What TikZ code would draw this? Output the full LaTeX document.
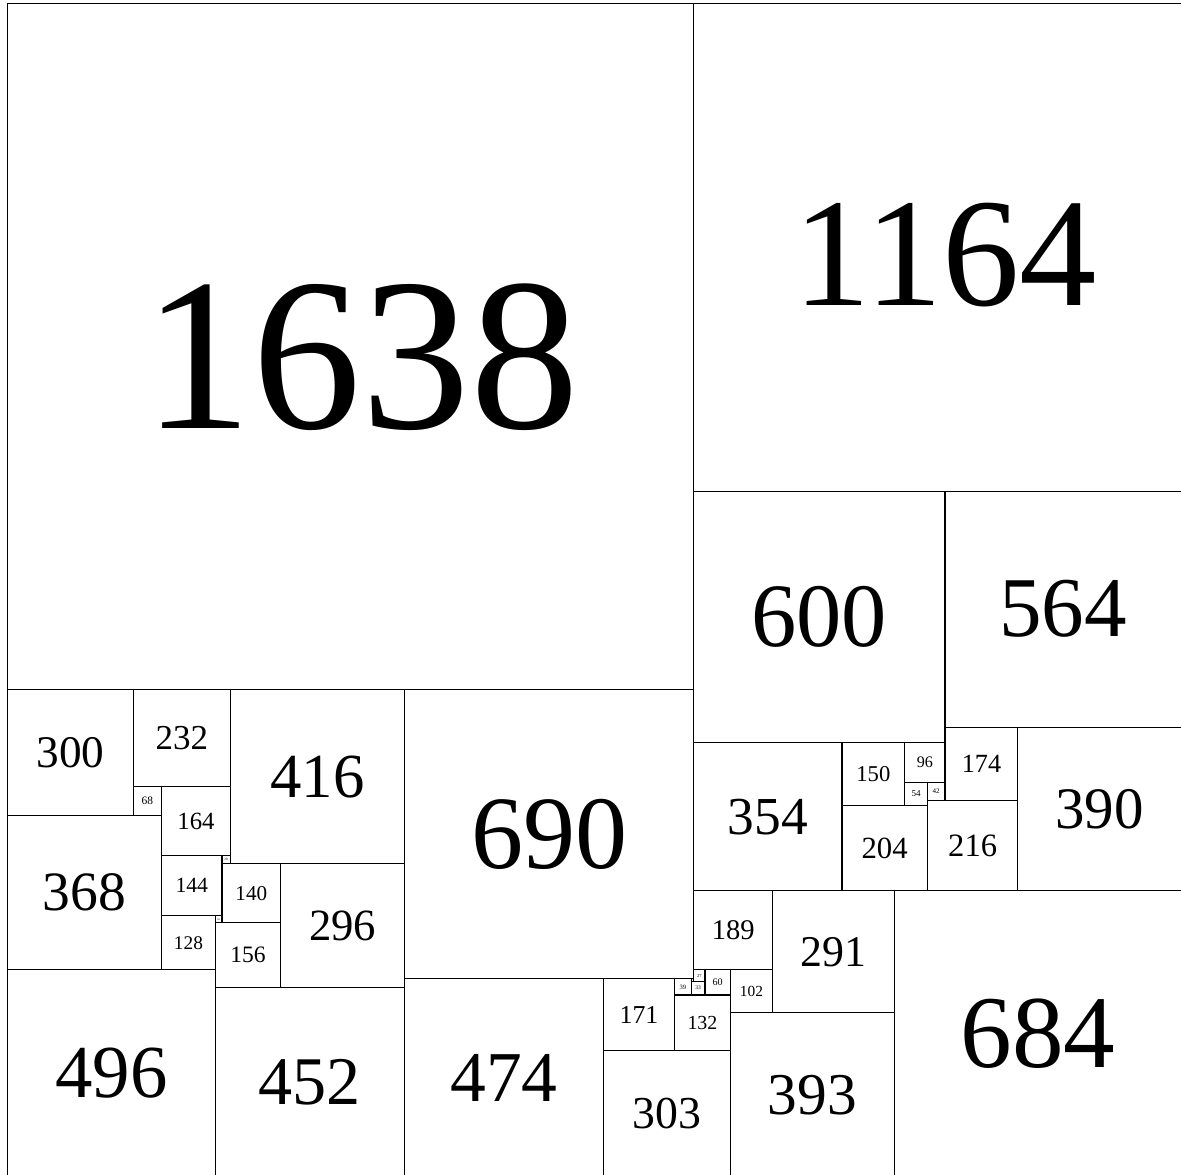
\documentclass[tikz,border=0pt]{standalone}
\usepackage{fontspec}
\setmainfont{Liberation Serif}
\tikzset{
  sqbox/.style={draw=black, line width=0.75pt, inner sep=0pt, outer sep=0pt,
    anchor=north west, minimum size=#1*0.01cm, text=black}
}
% \Sq[label shift]{x}{y}{side}{ratio}
\newcommand\Sq[5][0]{%
  \pgfmathsetmacro\fsz{#5*#4*0.2845}%
  \node[sqbox=#4] (s#4) at (#2,#3) {};%
  \node[font=\fontsize{\fsz pt}{\fsz pt}\selectfont, inner sep=0pt, text=black]
    (t#4) at ($(s#4.center)+(#1,#1)$) {#4};%
}
\usetikzlibrary{calc}
\begin{document}
\begin{tikzpicture}[x=0.01cm, y=-0.01cm]
\useasboundingbox (-17.9,-8.36) rectangle (2801.4,2796.6);
\clip (-17.9,-8.36) rectangle (2801.4,2796.6);
\Sq[26]{0}{0}{1638}{0.317}
\Sq[19]{1638}{0}{1164}{0.317}
\Sq{1638}{1164}{600}{0.36}
\Sq{2238}{1164}{564}{0.36}
\Sq{0}{1638}{300}{0.36}
\Sq{300}{1638}{232}{0.36}
\Sq{532}{1638}{416}{0.36}
\Sq{948}{1638}{690}{0.36}
\Sq{300}{1870}{68}{0.40}
\Sq{368}{1870}{164}{0.36}
\Sq{0}{1938}{368}{0.36}
\Sq{368}{2034}{144}{0.36}
\Sq{512}{2034}{20}{0.40}
\Sq{512}{2054}{140}{0.36}
\Sq{652}{2054}{296}{0.36}
\Sq{496}{2178}{16}{0.40}
\Sq{368}{2178}{128}{0.36}
\Sq{496}{2194}{156}{0.36}
\Sq{0}{2306}{496}{0.36}
\Sq{496}{2350}{452}{0.36}
\Sq{948}{2328}{474}{0.36}
\Sq{1638}{1764}{354}{0.36}
\Sq{1992}{1764}{150}{0.36}
\Sq{2142}{1764}{96}{0.40}
\Sq{2238}{1728}{174}{0.36}
\Sq{2412}{1728}{390}{0.36}
\Sq{2142}{1860}{54}{0.40}
\Sq{2196}{1860}{42}{0.40}
\Sq{2196}{1902}{216}{0.36}
\Sq{1992}{1914}{204}{0.36}
\Sq{2118}{2118}{684}{0.36}
\Sq{1638}{2118}{189}{0.36}
\Sq{1827}{2118}{291}{0.36}
\Sq{1638}{2307}{27}{0.40}
\Sq{1665}{2307}{60}{0.40}
\Sq{1725}{2307}{102}{0.36}
\Sq{1632}{2328}{6}{0.60}
\Sq{1593}{2328}{39}{0.40}
\Sq{1632}{2334}{33}{0.40}
\Sq{1422}{2328}{171}{0.36}
\Sq{1593}{2367}{132}{0.36}
\Sq{1422}{2499}{303}{0.36}
\Sq{1725}{2409}{393}{0.36}
\end{tikzpicture}
\end{document}
